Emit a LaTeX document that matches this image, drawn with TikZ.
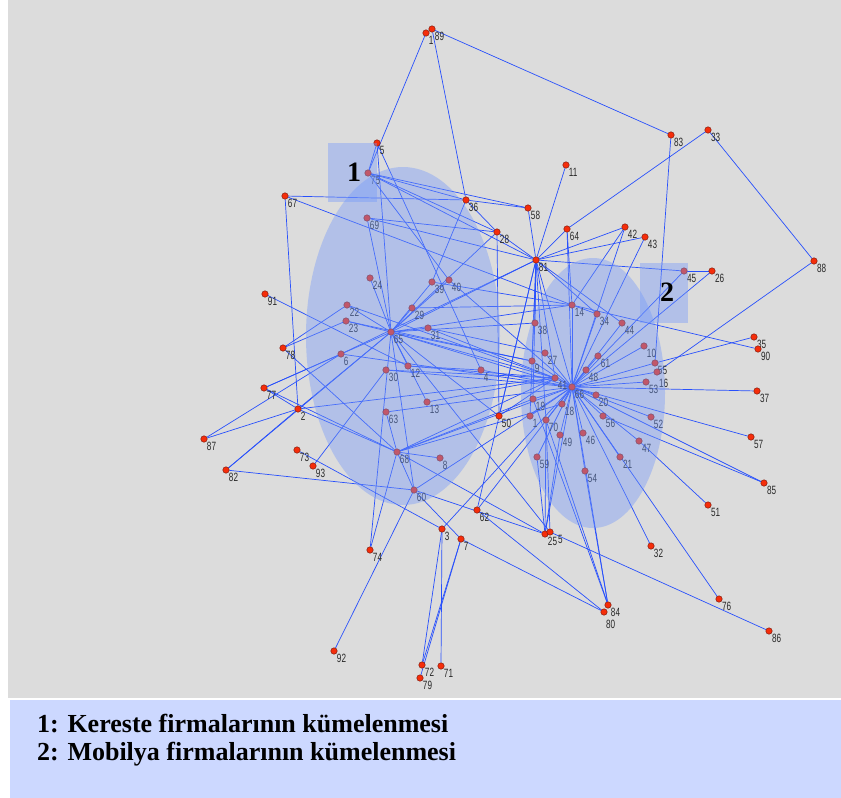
\documentclass[tikz,border=0pt]{standalone}
\usepackage{fontspec}
\setmainfont{Liberation Serif}
\newfontfamily\tagfont{Liberation Sans}
\usetikzlibrary{shapes, arrows, calc, positioning}

\definecolor{linkblue}{RGB}{40,80,252}
\definecolor{dotred}{RGB}{245,45,10}
\definecolor{dotrim}{RGB}{110,20,10}
\definecolor{plotgray}{RGB}{220,220,220}
\definecolor{keyblue}{RGB}{204,216,255}
\definecolor{hullblue}{RGB}{115,152,250}
\definecolor{taggray}{RGB}{40,40,40}
\newcommand{\narrow}[1]{\scalebox{0.68}[1]{#1}}

\pgfdeclarelayer{backdrop}
\pgfdeclarelayer{ties}
\pgfsetlayers{backdrop,ties,main}

\begin{document}
\begin{tikzpicture}[x=1pt, y=-1pt]
	\tikzstyle{firm} = [draw=dotrim, fill=dotred, line width=0.4pt, circle, minimum size=6.5pt, inner sep=0pt]
	\tikzstyle{firmtag} = [font=\tagfont\fontsize{12}{12}\selectfont, text=taggray, inner sep=0pt, label distance=0.5pt]
	\tikzstyle{tie} = [draw=linkblue, line width=0.7pt]
	\tikzstyle{hull} = [fill=hullblue, fill opacity=0.4]
	\tikzstyle{clusternum} = [font=\bfseries\fontsize{28}{28}\selectfont, inner sep=0pt]
	\tikzstyle{keytext} = [font=\bfseries\fontsize{26}{26}\selectfont, inner sep=0pt, anchor=base west]

	\useasboundingbox (0,0) rectangle (841,798);

	% firms
	\foreach \id/\lbl/\x/\y in {
		1a/1/426/33, 89/89/432/29, 5/5/377/143, 75/75/368/173, 67/67/285/196,
		36/36/466/200, 69/69/367/218, 83/83/671/135, 33/33/708/130, 11/11/566/165,
		58/58/528/208, 28/28/497/232, 64/64/567/229, 42/42/625/227, 43/43/645/237,
		81/81/536/260, 45/45/684/271, 26/26/712/271, 88/88/814/261, 24/24/370/278,
		91/91/265/294, 22/22/347/305, 23/23/346/321, 29/29/412/308, 65/65/391/332,
		39/39/432/282, 40/40/449/280, 31/31/428/328, 78/78/283/348, 6/6/341/354,
		30/30/386/370, 12/12/408/366, 4/4/481/370, 77/77/264/388, 2/2/298/409,
		63/63/386/412, 13/13/427/402, 87/87/204/439, 73/73/297/450, 93/93/313/466,
		82/82/226/470, 68/68/397/452, 8/8/440/458, 60/60/414/490, 50/50/499/416,
		14/14/572/305, 34/34/597/314, 44/44/622/323, 38/38/535/323, 27/27/545/353,
		9/9/532/361, 61/61/598/356, 48/48/586/370, 41/41/555/378, 66/66/572/387,
		20/20/596/395, 19/19/533/399, 1/1/530/416, 70/70/546/420, 18/18/562/404,
		56/56/603/416, 49/49/560/435, 46/46/583/433, 47/47/639/441, 59/59/537/457,
		21/21/620/457, 54/54/585/471, 35/35/754/337, 90/90/758/349, 10/10/644/346,
		55/55/655/363, 16//657/372, 53/53/646/382, 37/37/757/391, 52/52/651/417,
		57/57/751/437, 85/85/764/483, 51/51/708/505, 62/62/477/510, 3/3/442/529,
		7/7/461/539, 74/74/370/550, 92/92/334/651, 72/72/422/665, 79/79/420/678,
		71/71/441/666, 25/25/545/534, 5b//550/532, 32/32/651/546, 84/84/608/605,
		80//604/612, 76/76/719/599, 86/86/769/631}
		\node[firm, label={[firmtag]below right:\narrow{\lbl}}] (n\id) at (\x,\y) {};

	% crowded tags
	\node[firmtag, anchor=north west] (t16) at ($(n16)+(2,7)$) {\narrow{16}};
	\node[firmtag, anchor=north west] (t5b) at ($(n5b)+(8,3)$) {\narrow{5}};
	\node[firmtag, anchor=north west] (t80) at ($(n80)+(2,8)$) {\narrow{80}};

	% ties
	\begin{pgfonlayer}{ties}
		\foreach \a/\b in {
			89/83, 1a/75, 89/36, 83/55, 33/64, 33/88, 88/16, 11/81, 58/81, 36/58,
			75/58, 67/36, 67/2, 67/14, 75/36, 75/28, 75/81, 75/40, 5/75, 5/4,
			5/65, 69/28, 69/81, 69/65, 36/28, 36/39, 28/81, 28/65, 28/50, 64/81,
			64/14, 64/66, 42/81, 42/66, 42/14, 43/81, 43/66, 81/45, 45/26, 26/66,
			45/66, 81/66, 81/41, 81/9, 81/38, 81/19, 81/65, 81/6, 81/50, 81/34,
			81/44, 81/1, 81/70, 14/66, 14/34, 14/65, 34/66, 44/66, 61/66, 48/66,
			10/66, 55/66, 16/66, 53/66, 37/66, 20/66, 56/66, 52/66, 57/66, 85/66,
			85/56, 47/66, 51/47, 21/66, 32/66, 76/66, 46/66, 54/66, 49/66, 18/66,
			70/66, 1/66, 19/66, 41/66, 9/66, 27/66, 59/66, 35/55, 90/14, 5b/86,
			84/66, 80/7, 80/62, 84/70, 84/54, 62/66, 62/81, 3/66, 3/71, 3/72,
			7/72, 7/79, 25/66, 25/68, 25/70, 5b/65, 25/60, 60/68, 60/82, 73/3,
			60/7, 60/66, 92/60, 74/65, 74/68, 68/8, 68/66, 68/41, 68/2, 68/77,
			68/63, 87/6, 87/2, 82/2, 82/65, 93/30, 77/6, 77/65, 77/2, 78/22,
			78/23, 78/68, 91/12, 2/41, 2/65, 22/65, 23/65, 24/65, 29/65, 31/65,
			65/38, 65/66, 65/41, 65/9, 65/12, 65/13, 65/60, 65/50, 39/65, 40/65,
			30/41, 12/4, 13/41, 63/66, 4/66, 50/41, 59/25, 49/25, 70/5b, 19/84,
			68/19, 68/18, 6/66, 30/66, 12/41, 31/41, 29/14, 39/14, 40/66, 22/41,
			23/9, 31/27}
			\draw[tie] (n\a) -- (n\b);
	\end{pgfonlayer}

	% plot area and key area
	\begin{pgfonlayer}{backdrop}
		\fill[plotgray] (8,0) rectangle (841,698);
		\fill[keyblue] (10,700) rectangle (841,798);
	\end{pgfonlayer}

	% clusters
	\path[hull] (403,336) ellipse [x radius=97, y radius=169];
	\path[hull] (593,393) ellipse [x radius=72, y radius=135];
	\path[hull] (328,143) rectangle (377,202);
	\path[hull] (640,263) rectangle (688,323);
	\node[clusternum] (c1) at (354,172) {1};
	\node[clusternum] (c2) at (667,292) {2};

	% key
	\node[keytext] (key1) at (37,732) {1: Kereste firmalarının kümelenmesi};
	\node[keytext] (key2) at (37,760) {2: Mobilya firmalarının kümelenmesi};
\end{tikzpicture}
\end{document}
